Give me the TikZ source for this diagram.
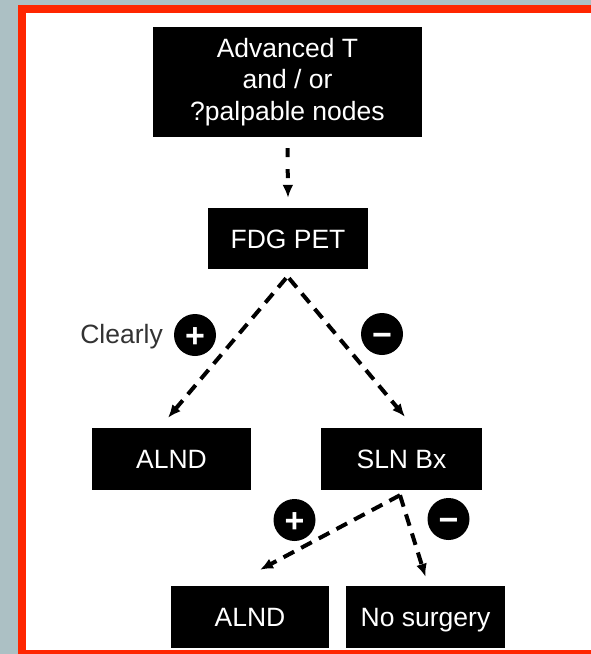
\documentclass[tikz,border=0pt]{standalone}
\usepackage{fontspec}
\setmainfont{Liberation Sans}
\usepackage{tikz}
\usetikzlibrary{arrows.meta}
\definecolor{framered}{RGB}{255,38,0}
\definecolor{slidegray}{RGB}{172,192,196}
\tikzset{
    box/.style={rectangle, fill=black, text=white, inner sep=0pt,
    	font=\fontsize{26.5}{31.5}\selectfont},
    onebox/.style={box, minimum width=159pt, minimum height=62pt,
    	text height=19pt, text depth=0pt}
}
\tikzset{
    sign/.style={circle, fill=black, text=white, minimum size=42pt,
    	inner sep=0pt, text height=24pt, text depth=0pt,
    	font=\bfseries\fontsize{34}{34}\selectfont}
}
\tikzset{
    every edge/.append style={line width=4pt, dash pattern=on 12pt off 8pt,
    	-{Latex[length=13pt,width=11pt]}}
}

\begin{document}
\begin{tikzpicture}[x=1pt, y=-1pt]
  \useasboundingbox (0,0) rectangle (591,654);
  \fill[slidegray] (0,0) rectangle (591,654);
  \fill[framered] (18,5) rectangle (591,654);
  \fill[white] (26,13) rectangle (591,650);

  \node (top) [box, align=center, minimum width=269pt, minimum height=110pt]
    at (287.5,82) {Advanced T\\and / or\\?palpable nodes};
  \node (fdg) [onebox, minimum width=160pt, minimum height=61pt] at (288,238.5) {FDG PET};
  \node (alnd) [onebox] at (171.5,459) {ALND};
  \node (sln) [onebox, minimum width=161pt] at (401.5,459) {SLN Bx};
  \node (alndb) [onebox, minimum width=158pt] at (250,617) {ALND};
  \node (surg) [onebox] at (425.5,617) {No surgery};

  \node (pos1) [sign] at (195,335) {+};
  \node (neg1) [sign] at (382,334) {−};
  \node (pos2) [sign] at (294.5,520) {+};
  \node (neg2) [sign] at (448.5,519) {−};
  \node (clear) [anchor=base east, inner sep=0pt, text=black!80,
    font=\fontsize{26.5}{31.5}\selectfont] at (163,343) {Clearly};

  \draw ([yshift=-11pt]top.south) edge [dash pattern=on 9pt off 12pt] ([yshift=10pt]fdg.north);
  \draw ([xshift=-2pt,yshift=-9pt]fdg.south) edge ([xshift=-3.5pt,yshift=10pt]alnd.north);
  \draw ([xshift=1pt,yshift=-9pt]fdg.south) edge ([xshift=3.5pt,yshift=11pt]sln.north);
  \draw ([xshift=-1.5pt,yshift=-5pt]sln.south) edge ([xshift=10pt,yshift=16pt]alndb.north);
  \draw ([xshift=-1.5pt,yshift=-5pt]sln.south) edge ([yshift=9pt]surg.north);
\end{tikzpicture}
\end{document}
